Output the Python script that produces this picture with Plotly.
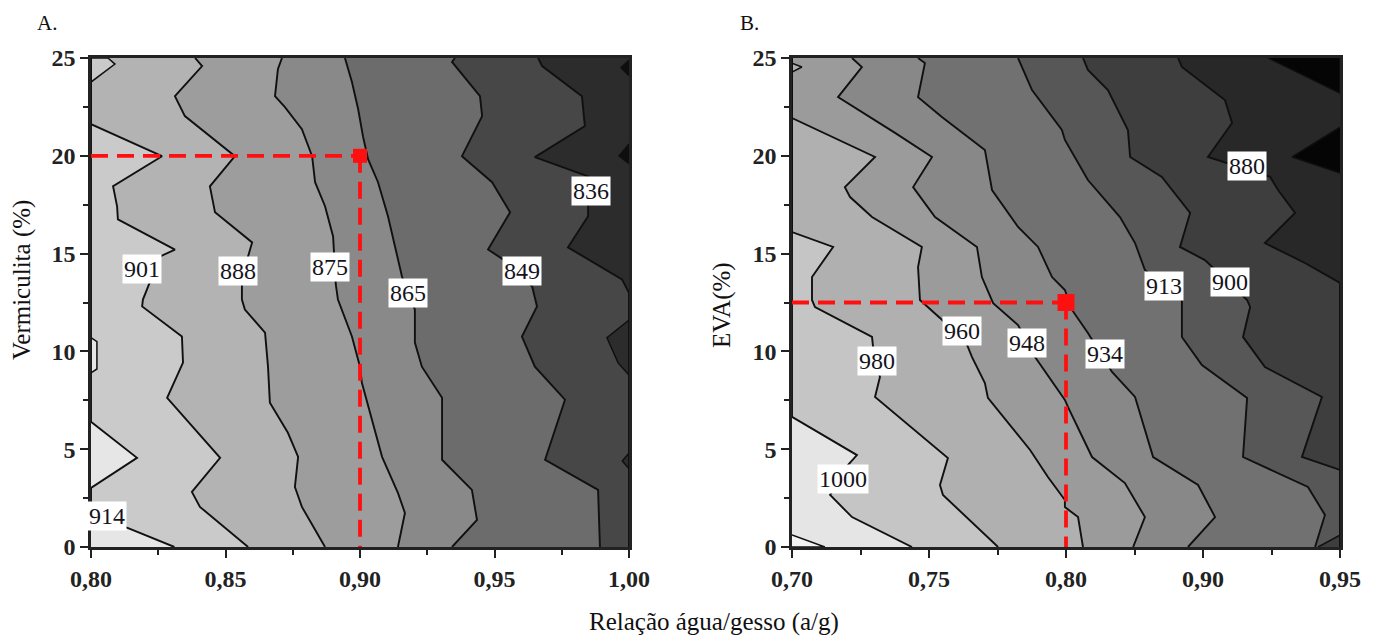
import plotly.graph_objects as go

FONT = "Liberation Serif"

# ---------------- shared axis data ----------------
Y_RANGE = [0.0, 25.0]
Y_TICK_VALS = [0, 5, 10, 15, 20, 25]
Y_TICK_TEXT = ["0", "5", "10", "15", "20", "25"]
Y_MINOR = [2.5, 7.5, 12.5, 17.5, 22.5]

# ---------------- Panel A (Vermiculita) ----------------
A_X_RANGE = [0.80, 1.00]
A_XTICK_VALS = [0.80, 0.85, 0.90, 0.95, 1.00]
A_XTICK_TEXT = ["0,80", "0,85", "0,90", "0,95", "1,00"]
A_XMINOR = [0.825, 0.875, 0.925, 0.975]
A_LEVELS = [914, 901, 888, 875, 865, 849, 836]

A_L914_X = [0.831, 0.8138, 0.800, 0.800, 0.8171, 0.800, 0.800]
A_L914_Y = [0.00, 0.97, 1.60, 3.02, 4.56, 6.40, 25.00]
A_L901_X = [0.8584, 0.8405, 0.8375, 0.8480, 0.8283, 0.8342, 0.8338, 0.8190, 0.8193,
            0.8219, 0.8257, 0.8312, 0.8100, 0.8097, 0.8082, 0.8264, 0.800, 0.800]
A_L901_Y = [0.00, 2.05, 2.82, 4.56, 7.63, 9.43, 10.76, 12.30, 12.65,
            13.52, 14.86, 15.20, 16.75, 17.42, 18.44, 19.98, 21.62, 25.00]
A_L888_X = [0.8870, 0.8784, 0.8758, 0.8770, 0.8732, 0.8665, 0.8658, 0.8647, 0.8572, 0.8561,
            0.8561, 0.8584, 0.8599, 0.8461, 0.8442, 0.8535, 0.8349, 0.8312, 0.8413, 0.8387]
A_L888_Y = [0.00, 2.05, 3.07, 4.61, 5.84, 7.38, 9.22, 10.96, 12.14, 12.65,
            13.42, 14.86, 15.57, 17.11, 18.44, 19.98, 22.03, 23.05, 24.59, 25.00]
A_L875_X = [0.9141, 0.9167, 0.9141, 0.9082, 0.9007, 0.9000, 0.8970, 0.8918, 0.8910,
            0.8900, 0.8870, 0.8833, 0.8822, 0.8784, 0.8721, 0.8684, 0.8695, 0.8710]
A_L875_Y = [0.00, 1.74, 2.77, 4.61, 8.40, 9.22, 10.76, 12.65, 13.42,
            15.88, 17.42, 18.65, 19.98, 21.36, 22.49, 23.05, 24.44, 25.00]
A_L865_X = [0.9342, 0.9435, 0.9416, 0.9305, 0.9305, 0.9230, 0.9204, 0.9204, 0.9180,
            0.9156, 0.9104, 0.9067, 0.9030, 0.9011, 0.8993, 0.8970, 0.8944]
A_L865_Y = [0.00, 1.38, 2.92, 4.46, 7.63, 9.22, 10.45, 12.14, 13.00,
            13.83, 16.91, 18.65, 19.83, 21.00, 22.39, 23.77, 25.00]
A_L849_X = [0.9892, 0.9885, 0.9688, 0.9762, 0.9650, 0.9602, 0.9658, 0.9640, 0.9532,
            0.9476, 0.9558, 0.9491, 0.9379, 0.9454, 0.9446, 0.9342, 0.9353]
A_L849_Y = [0.00, 2.92, 4.46, 7.53, 9.22, 10.76, 12.30, 13.32, 14.70,
            15.21, 17.11, 18.65, 19.98, 22.03, 23.05, 24.80, 25.00]
A_L836_X = [1.000, 1.000, 0.9974, 0.9773, 0.9848, 0.9848, 0.9650, 0.9836, 0.9825, 0.9677, 0.9662]
A_L836_Y = [0.00, 13.00, 13.68, 15.32, 16.91, 18.95, 19.93, 21.52, 23.05, 24.59, 25.00]

# band fills, lightest (>914) to darkest (<836)
A_BAND_COLORS = ["#e6e6e6", "#cacaca", "#b3b3b3", "#9d9d9d", "#898989", "#6c6c6c", "#474747", "#2c2c2c"]

# small closed regions (islands)
A_ISLE1_X = [0.800, 0.8089, 0.8063, 0.800]
A_ISLE1_Y = [23.77, 24.69, 25.00, 25.00]
A_ISLE2_X = [0.800, 0.8022, 0.8022, 0.800]
A_ISLE2_Y = [10.70, 10.50, 9.10, 8.90]
A_ISLE3_X = [1.000, 0.9918, 0.9960, 1.000]
A_ISLE3_Y = [11.60, 10.70, 9.40, 8.80]
A_ISLE4_X = [1.000, 0.9963, 1.000]
A_ISLE4_Y = [20.60, 20.00, 19.60]
A_ISLE5_X = [1.000, 0.9970, 1.000]
A_ISLE5_Y = [24.90, 24.50, 24.10]
A_ISLE6_X = [1.000, 0.9975, 1.000]
A_ISLE6_Y = [4.80, 4.40, 4.00]
A_ISLE_COLORS = ["#cacaca", "#e6e6e6", "#2c2c2c", "#0e0e0e", "#0e0e0e", "#2c2c2c"]

A_LABEL_TEXT = ["914", "901", "888", "875", "865", "849", "836"]
A_LABEL_X = [0.806, 0.819, 0.8546, 0.8888, 0.9178, 0.9602, 0.9859]
A_LABEL_Y = [1.59, 14.19, 14.09, 14.30, 13.00, 14.09, 18.19]
A_OPT_X = 0.90
A_OPT_Y = 20.0

# ---------------- Panel B (EVA) ----------------
B_X_RANGE = [0.70, 0.90]
B_XTICK_VALS = [0.70, 0.75, 0.80, 0.85, 0.90]
B_XTICK_TEXT = ["0,70", "0,75", "0,80", "0,90", "0,95"]
B_XMINOR = [0.725, 0.775, 0.825, 0.875]
B_LEVELS = [1000, 980, 960, 948, 934, 913, 900, 880]

B_L1000_X = [0.7438, 0.7219, 0.7139, 0.7204, 0.7237, 0.700, 0.700]
B_L1000_Y = [0.00, 1.53, 2.66, 4.19, 4.70, 6.65, 25.00]
B_L980_X = [0.7752, 0.7551, 0.7540, 0.7569, 0.7303, 0.7321, 0.7296, 0.7292, 0.7084,
            0.7073, 0.7073, 0.7150, 0.700, 0.700]
B_L980_Y = [0.00, 2.66, 3.17, 4.55, 7.67, 8.69, 10.22, 10.74, 12.27,
            12.63, 13.80, 15.34, 16.10, 25.00]
B_L960_X = [0.8062, 0.8044, 0.7996, 0.7996, 0.7934, 0.7869, 0.7715, 0.7704, 0.7657, 0.7639,
            0.7540, 0.7467, 0.7460, 0.7474, 0.7292, 0.7212, 0.7193, 0.7303, 0.700, 0.700]
B_L960_Y = [0.00, 1.53, 2.04, 2.40, 3.58, 4.96, 7.62, 8.38, 9.71, 10.33,
            11.71, 12.63, 14.31, 15.34, 16.87, 17.89, 18.40, 19.94, 21.93, 25.00]
B_L948_X = [0.8245, 0.8288, 0.8215, 0.8095, 0.8007, 0.7996, 0.7887, 0.7825, 0.7734,
            0.7693, 0.7675, 0.7522, 0.7442, 0.7511, 0.7376, 0.7168, 0.7255, 0.7219]
B_L948_Y = [0.00, 1.53, 3.27, 4.60, 7.16, 7.52, 9.71, 11.35, 12.47,
            13.80, 15.34, 16.87, 18.40, 19.94, 21.17, 23.00, 24.54, 25.00]
B_L934_X = [0.8445, 0.8544, 0.8482, 0.8318, 0.8252, 0.8168, 0.8080, 0.8022, 0.7996,
            0.7949, 0.7898, 0.7825, 0.7730, 0.7704, 0.7547, 0.7460, 0.7485, 0.7460]
B_L934_Y = [0.00, 1.53, 3.17, 4.60, 7.67, 8.95, 10.94, 12.12, 13.14,
            13.80, 15.34, 16.36, 18.25, 20.30, 21.98, 23.00, 24.74, 25.00]
B_L913_X = [0.8909, 0.8945, 0.8883, 0.8646, 0.8661, 0.8496, 0.8423, 0.8423,
            0.8288, 0.8252, 0.8197, 0.8080, 0.7996, 0.7985, 0.7876, 0.7825]
B_L913_Y = [0.00, 1.64, 3.07, 4.60, 7.62, 9.30, 10.74, 12.63,
            14.16, 15.54, 16.87, 18.76, 20.81, 21.32, 23.36, 25.00]
B_L900_X = [0.900, 0.900, 0.8861, 0.8920, 0.8934, 0.8726, 0.8646, 0.8672, 0.8661,
            0.8507, 0.8416, 0.8453, 0.8350, 0.8234, 0.8226, 0.8153, 0.8080, 0.8062]
B_L900_Y = [0.00, 3.94, 4.60, 7.00, 7.67, 9.20, 10.74, 12.27, 12.63,
            14.67, 15.34, 17.08, 18.92, 19.94, 21.32, 23.36, 24.39, 25.00]
B_L880_X = [0.900, 0.900, 0.8872, 0.8726, 0.8836, 0.8774, 0.8745, 0.8518, 0.8606, 0.8580, 0.8423, 0.8409]
B_L880_Y = [0.00, 13.50, 14.52, 15.54, 17.08, 18.25, 18.92, 19.94, 21.68, 22.85, 24.54, 25.00]

# band fills, lightest (>1000) to darkest (<880)
B_BAND_COLORS = ["#e5e5e5", "#c5c5c5", "#b0b0b0", "#9b9b9b", "#888888", "#717171", "#575757", "#3e3e3e", "#282828"]

B_ISLE1_X = [0.700, 0.712, 0.700]
B_ISLE1_Y = [0.00, 0.00, 0.61]
B_ISLE2_X = [0.700, 0.7036, 0.700]
B_ISLE2_Y = [24.74, 24.54, 24.28]
B_ISLE3_X = [0.8737, 0.8825, 0.8971, 0.900, 0.900]
B_ISLE3_Y = [25.00, 24.39, 23.36, 23.20, 25.00]
B_ISLE4_X = [0.900, 0.8825, 0.900]
B_ISLE4_Y = [21.47, 19.94, 19.12]
B_ISLE5_X = [0.892, 0.900, 0.900]
B_ISLE5_Y = [0.00, 0.61, 0.00]
B_ISLE_COLORS = ["#f4f4f4", "#b0b0b0", "#050505", "#050505", "#3e3e3e"]

B_LABEL_TEXT = ["1000", "980", "960", "948", "934", "913", "900", "880"]
B_LABEL_X = [0.7186, 0.7310, 0.7620, 0.7858, 0.8142, 0.8358, 0.8599, 0.8660]
B_LABEL_Y = [3.48, 9.51, 11.04, 10.43, 9.87, 13.34, 13.55, 19.48]
B_OPT_X = 0.80
B_OPT_Y = 12.5

# ---------------- build ----------------
A_PATHS = [(A_L914_X, A_L914_Y), (A_L901_X, A_L901_Y), (A_L888_X, A_L888_Y),
           (A_L875_X, A_L875_Y), (A_L865_X, A_L865_Y), (A_L849_X, A_L849_Y),
           (A_L836_X, A_L836_Y)]
A_ISLES = [(A_ISLE1_X, A_ISLE1_Y), (A_ISLE2_X, A_ISLE2_Y), (A_ISLE3_X, A_ISLE3_Y),
           (A_ISLE4_X, A_ISLE4_Y), (A_ISLE5_X, A_ISLE5_Y), (A_ISLE6_X, A_ISLE6_Y)]
B_PATHS = [(B_L1000_X, B_L1000_Y), (B_L980_X, B_L980_Y), (B_L960_X, B_L960_Y),
           (B_L948_X, B_L948_Y), (B_L934_X, B_L934_Y), (B_L913_X, B_L913_Y),
           (B_L900_X, B_L900_Y), (B_L880_X, B_L880_Y)]
B_ISLES = [(B_ISLE1_X, B_ISLE1_Y), (B_ISLE2_X, B_ISLE2_Y), (B_ISLE3_X, B_ISLE3_Y),
           (B_ISLE4_X, B_ISLE4_Y), (B_ISLE5_X, B_ISLE5_Y)]

fig = go.Figure()
annotations = []

LINE_COLOR = "#101010"
RED = "#ff1010"


def add_panel(xid, yid, x_range, paths, band_colors, isles, isle_colors,
              lab_text, lab_x, lab_y, opt_x, opt_y, msize):
    left = ([x_range[0], x_range[0]], [Y_RANGE[0], Y_RANGE[1]])
    right = ([x_range[1], x_range[1]], [Y_RANGE[0], Y_RANGE[1]])
    bounds = [left] + paths + [right]
    for k, col in enumerate(band_colors):
        x1, y1 = bounds[k]
        x2, y2 = bounds[k + 1]
        fig.add_trace(go.Scatter(x=list(x1) + list(x2)[::-1], y=list(y1) + list(y2)[::-1],
                                 xaxis=xid, yaxis=yid, mode="lines", fill="toself",
                                 fillcolor=col, line=dict(width=0, color=col),
                                 hoverinfo="skip", showlegend=False))
    for (ix, iy), col in zip(isles, isle_colors):
        fig.add_trace(go.Scatter(x=ix, y=iy, xaxis=xid, yaxis=yid, mode="lines",
                                 fill="toself", fillcolor=col, line=dict(width=0, color=col),
                                 hoverinfo="skip", showlegend=False))
    for px, py in paths:
        fig.add_trace(go.Scatter(x=px, y=py, xaxis=xid, yaxis=yid, mode="lines",
                                 line=dict(color=LINE_COLOR, width=1.9),
                                 hoverinfo="skip", showlegend=False))
    for ix, iy in isles:
        fig.add_trace(go.Scatter(x=ix, y=iy, xaxis=xid, yaxis=yid, mode="lines",
                                 line=dict(color=LINE_COLOR, width=1.5),
                                 hoverinfo="skip", showlegend=False))
    # red dashed guide lines and optimum marker
    fig.add_trace(go.Scatter(x=[x_range[0], opt_x], y=[opt_y, opt_y], xaxis=xid, yaxis=yid,
                             mode="lines", line=dict(color=RED, width=3.8, dash="17px,9px"),
                             hoverinfo="skip", showlegend=False))
    fig.add_trace(go.Scatter(x=[opt_x, opt_x], y=[opt_y, Y_RANGE[0]], xaxis=xid, yaxis=yid,
                             mode="lines", line=dict(color=RED, width=3.8, dash="17px,9px"),
                             hoverinfo="skip", showlegend=False))
    fig.add_trace(go.Scatter(x=[opt_x], y=[opt_y], xaxis=xid, yaxis=yid, mode="markers",
                             marker=dict(symbol="square", size=msize, color=RED, line=dict(width=0)),
                             hoverinfo="skip", showlegend=False))
    for t, lx, ly in zip(lab_text, lab_x, lab_y):
        annotations.append(dict(x=lx, y=ly, xref=xid, yref=yid, text=t, showarrow=False,
                                xanchor="center", yanchor="middle",
                                font=dict(family=FONT, size=24, color="#141420"),
                                bgcolor="white", borderpad=1))


add_panel("x", "y", A_X_RANGE, A_PATHS, A_BAND_COLORS, A_ISLES, A_ISLE_COLORS,
          A_LABEL_TEXT, A_LABEL_X, A_LABEL_Y, A_OPT_X, A_OPT_Y, 14)
add_panel("x2", "y2", B_X_RANGE, B_PATHS, B_BAND_COLORS, B_ISLES, B_ISLE_COLORS,
          B_LABEL_TEXT, B_LABEL_X, B_LABEL_Y, B_OPT_X, B_OPT_Y, 17)

W, H = 1382, 641
OFF = 8  # page body margin applied by the browser
TICKFONT = dict(family=FONT, size=24, color="#222222", weight="bold")


def px_x(p):
    return (p - OFF) / W


def px_y(p):
    return 1 - (p - OFF) / H


def xaxis_cfg(domain, rng, vals, text, minor):
    return dict(domain=domain, range=rng, tickmode="array", tickvals=vals, ticktext=text,
                ticks="outside", ticklen=8, tickwidth=2, tickcolor="#222222",
                minor=dict(tickmode="array", tickvals=minor, ticks="outside", ticklen=5,
                           tickwidth=1.5, tickcolor="#222222"),
                showline=True, linecolor="#222222", linewidth=2.5, mirror=True,
                showgrid=False, zeroline=False, tickfont=TICKFONT, fixedrange=True,
                automargin=False)


def yaxis_cfg(domain, anchor):
    return dict(domain=domain, range=Y_RANGE, anchor=anchor, tickmode="array",
                tickvals=Y_TICK_VALS, ticktext=Y_TICK_TEXT,
                ticks="outside", ticklen=8, tickwidth=2, tickcolor="#222222",
                minor=dict(tickmode="array", tickvals=Y_MINOR, ticks="outside", ticklen=5,
                           tickwidth=1.5, tickcolor="#222222"),
                showline=True, linecolor="#222222", linewidth=2.5, mirror=True,
                showgrid=False, zeroline=False, tickfont=TICKFONT, fixedrange=True,
                automargin=False)


Y_DOM = [px_y(547), px_y(58)]
TITLE_FONT = dict(family=FONT, size=25, color="#111111")
PANEL_FONT = dict(family=FONT, size=21, color="#111111")
CENTER = dict(xanchor="center", yanchor="middle", xref="paper", yref="paper", showarrow=False)
annotations += [
    dict(x=px_x(22), y=px_y(280), text="Vermiculita (%)", textangle=-90, font=TITLE_FONT, **CENTER),
    dict(x=px_x(722), y=px_y(305), text="EVA(%)", textangle=-90, font=TITLE_FONT, **CENTER),
    dict(x=px_x(714), y=px_y(622), text="Relação água/gesso (a/g)", font=TITLE_FONT, **CENTER),
    dict(x=px_x(47), y=px_y(23), text="A.", font=PANEL_FONT, **CENTER),
    dict(x=px_x(749), y=px_y(23), text="B.", font=PANEL_FONT, **CENTER),
]

fig.update_layout(
    width=W, height=H, margin=dict(l=0, r=0, t=0, b=0, autoexpand=False),
    paper_bgcolor="white", plot_bgcolor="white", showlegend=False,
    xaxis=xaxis_cfg([px_x(91), px_x(629)], A_X_RANGE, A_XTICK_VALS, A_XTICK_TEXT, A_XMINOR),
    yaxis=yaxis_cfg(Y_DOM, "x"),
    xaxis2=xaxis_cfg([px_x(792), px_x(1340)], B_X_RANGE, B_XTICK_VALS, B_XTICK_TEXT, B_XMINOR) | dict(anchor="y2"),
    yaxis2=yaxis_cfg(Y_DOM, "x2"),
    annotations=annotations,
)

fig.write_html("out.html", config={"displayModeBar": False})
